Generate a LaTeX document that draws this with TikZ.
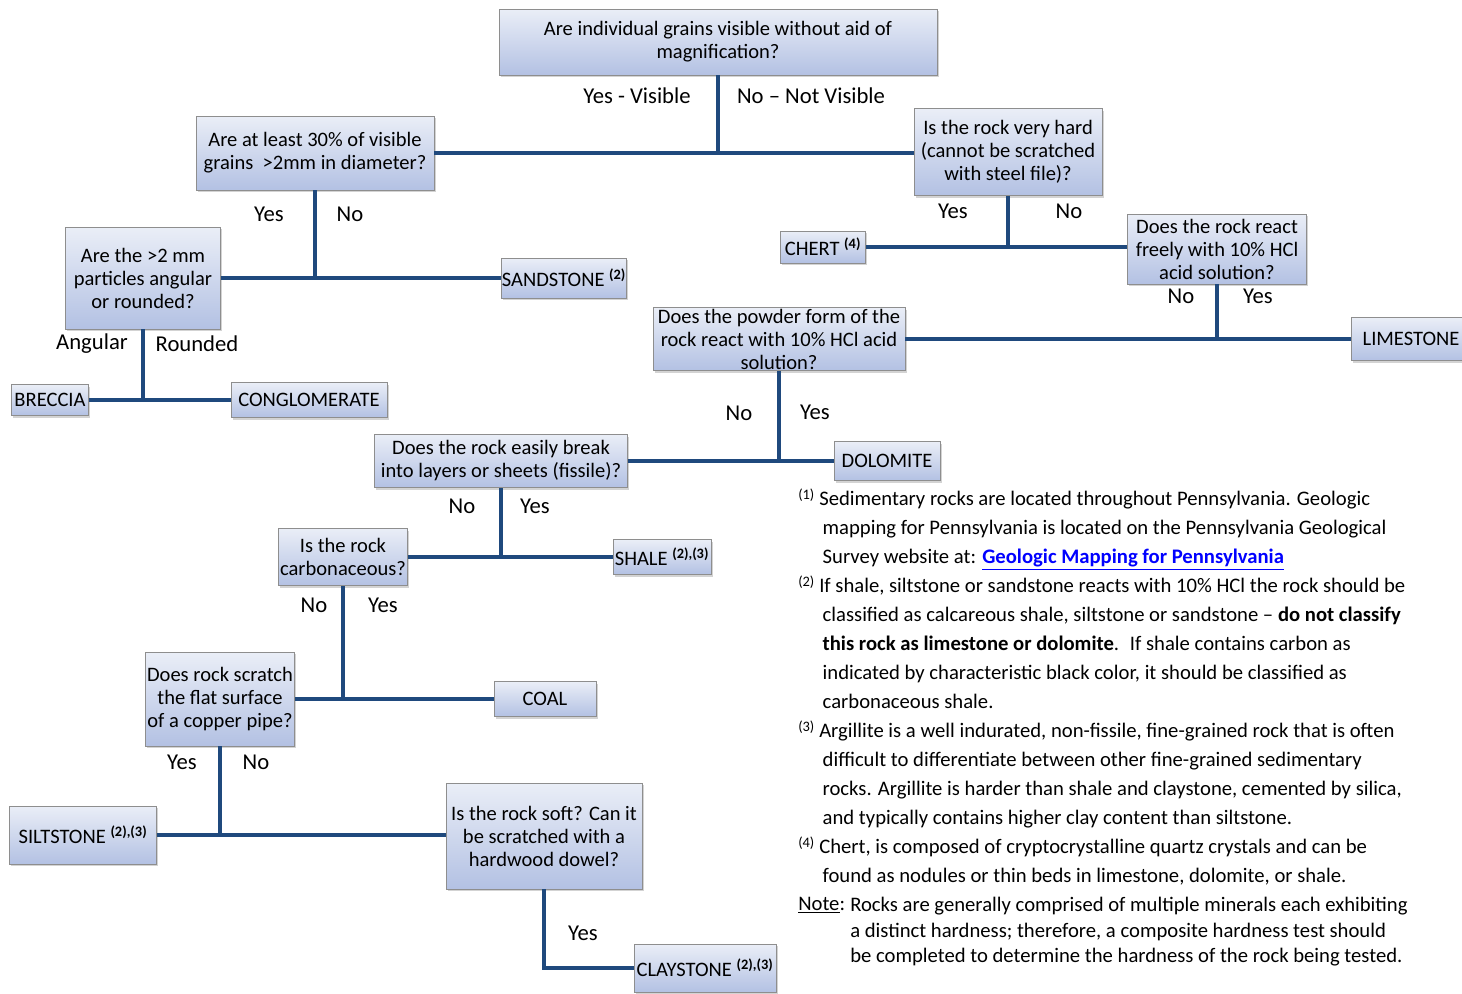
\documentclass[tikz,border=0pt]{standalone}
\usepackage{fontspec}
\setmainfont{Carlito}
\usetikzlibrary{shadows}
\definecolor{cline}{HTML}{1F497D}
\definecolor{ctop}{HTML}{EAEEF7}
\definecolor{cbot}{HTML}{B3C1E3}
\definecolor{cedge}{HTML}{8E8E8E}
\definecolor{clink}{HTML}{0000FF}
\tikzset{
  every picture/.style={x={(0.75pt,0pt)}, y={(0pt,-0.75pt)}},
  box/.style={draw=cedge, line width=0.6pt, top color=ctop, bottom color=cbot, align=center, inner sep=0.5pt,
              drop shadow={opacity=0.35, shadow xshift=1.2pt, shadow yshift=-1.8pt},
              font=\fontsize{15.4}{17.25}\selectfont},
  link/.style={draw=cline, line width=2.3pt},
  ans/.style={font=\fontsize{17}{19}\selectfont, inner sep=0pt},
  notes/.style={font=\fontsize{15.5}{21.75}\selectfont, align=left, anchor=north west, inner sep=0pt},
  fnmark/.style={font=\fontsize{15.5}{18}\selectfont, anchor=north west, inner sep=0pt},
}
\newcommand{\fn}[1]{\textsuperscript{\bfseries#1}}

\begin{document}
\begin{tikzpicture}
  \useasboundingbox (0,0) rectangle (1462,993);
  % questions
  \node[box, minimum width=328.5pt, minimum height=49.5pt] (grains) at (718,42) {Are individual grains visible without aid of\\magnification?};
  \node[box, minimum width=178.5pt, minimum height=55.5pt] (coarse) at (315,153) {Are at least 30\% of visible\\grains \ >2mm in diameter?};
  \node[box, minimum width=141pt, minimum height=65pt] (hard) at (1008,152) {Is the rock very hard\\(cannot be scratched\\with steel file)?};
  \node[box, minimum width=116pt, minimum height=76.5pt] (shape) at (143,278) {Are the >2 mm\\particles angular\\or rounded?};
  \node[box, minimum width=134pt, minimum height=52.5pt] (acid) at (1217,249) {Does the rock react\\freely with 10\% HCl\\acid solution?};
  \node[box, minimum width=189pt, minimum height=47pt] (powder) at (779,339) {Does the powder form of the\\rock react with 10\% HCl acid\\solution?};
  \node[box, minimum width=190pt, minimum height=40pt] (fissile) at (501,461) {Does the rock easily break\\into layers or sheets (fissile)?};
  \node[box, minimum width=97pt, minimum height=43pt] (carbon) at (343,557) {Is the rock\\carbonaceous?};
  \node[box, minimum width=112pt, minimum height=70.5pt] (copper) at (220,699) {Does rock scratch\\the flat surface\\of a copper pipe?};
  \node[box, minimum width=147pt, minimum height=79.5pt] (soft) at (544,836) {Is the rock soft? Can it\\be scratched with a\\hardwood dowel?};
  % rocks
  \node[box, minimum width=91pt, minimum height=30pt] (sandstone) at (564,278) {SANDSTONE \fn{(2)}};
  \node[box, minimum width=64pt, minimum height=24pt] (chert) at (823,247) {CHERT \fn{(4)}};
  \node[box, minimum width=90pt, minimum height=32pt] (limestone) at (1411,339) {LIMESTONE};
  \node[box, minimum width=58pt, minimum height=23pt] (breccia) at (50,400) {BRECCIA};
  \node[box, minimum width=117pt, minimum height=26pt] (conglomerate) at (309,400) {CONGLOMERATE};
  \node[box, minimum width=79.5pt, minimum height=29pt] (dolomite) at (887,461) {DOLOMITE};
  \node[box, minimum width=73.5pt, minimum height=26pt] (shale) at (662,557) {SHALE \fn{(2),(3)}};
  \node[box, minimum width=76.5pt, minimum height=26pt] (coal) at (545,699) {COAL};
  \node[box, minimum width=110pt, minimum height=43.5pt] (siltstone) at (83,835) {SILTSTONE \fn{(2),(3)}};
  \node[box, minimum width=106.5pt, minimum height=36pt] (claystone) at (705,968) {CLAYSTONE \fn{(2),(3)}};
  % connectors
  \draw[link] (grains.south) -- (grains.south |- coarse.east);
  \draw[link] (coarse.east) -- (hard.west |- coarse.east);
  \draw[link] (coarse.south) -- (coarse.south |- sandstone.west);
  \draw[link] (shape.east) -- (sandstone.west);
  \draw[link] (shape.south) -- (shape.south |- breccia.east);
  \draw[link] (breccia.east) -- (conglomerate.west);
  \draw[link] (hard.south) -- (hard.south |- chert.east);
  \draw[link] (chert.east) -- (acid.west |- chert.east);
  \draw[link] (acid.south) -- (acid.south |- limestone.west);
  \draw[link] (powder.east) -- (limestone.west);
  \draw[link] (powder.south) -- (powder.south |- dolomite.west);
  \draw[link] (fissile.east) -- (dolomite.west);
  \draw[link] (fissile.south) -- (fissile.south |- shale.west);
  \draw[link] (carbon.east) -- (shale.west);
  \draw[link] (carbon.south) -- (carbon.south |- coal.west);
  \draw[link] (copper.east) -- (coal.west);
  \draw[link] (copper.south) -- (copper.south |- siltstone.east);
  \draw[link] (siltstone.east) -- (soft.west |- siltstone.east);
  \draw[link] (soft.south) |- (claystone.west);
  % answers
  \node[ans] (a1) at (637,96) {Yes - Visible};
  \node[ans] (a2) at (811,96) {No – Not Visible};
  \node[ans] (a3) at (269,214) {Yes};
  \node[ans] (a4) at (350,214) {No};
  \node[ans] (a5) at (953,211) {Yes};
  \node[ans] (a6) at (1069,211) {No};
  \node[ans] (a7) at (92,344) {Angular};
  \node[ans] (a8) at (197,344) {Rounded};
  \node[ans] (a9) at (1181,296) {No};
  \node[ans] (a10) at (1258,296) {Yes};
  \node[ans] (a11) at (739,413) {No};
  \node[ans] (a12) at (815,412) {Yes};
  \node[ans] (a13) at (462,506) {No};
  \node[ans] (a14) at (535,506) {Yes};
  \node[ans] (a15) at (314,605) {No};
  \node[ans] (a16) at (383,605) {Yes};
  \node[ans] (a17) at (182,762) {Yes};
  \node[ans] (a18) at (256,762) {No};
  \node[ans] (a19) at (583,933) {Yes};
  % footnotes
  \node[notes] (fn) at (819,491) {Sedimentary rocks are located throughout Pennsylvania. Geologic\\
    \,mapping for Pennsylvania is located on the Pennsylvania Geological\\
    \,Survey website at: {\bfseries\color{clink}\underline{Geologic Mapping for Pennsylvania}}\\
    If shale, siltstone or sandstone reacts with 10\% HCl the rock should be\\
    \,classified as calcareous shale, siltstone or sandstone – \textbf{do not classify}\\
    \,\textbf{this rock as limestone or dolomite}. \ If shale contains carbon as\\
    \,indicated by characteristic black color, it should be classified as\\
    \,carbonaceous shale.\\
    Argillite is a well indurated, non-fissile, fine-grained rock that is often\\
    \,difficult to differentiate between other fine-grained sedimentary\\
    \,rocks. Argillite is harder than shale and claystone, cemented by silica,\\
    \,and typically contains higher clay content than siltstone.\\
    Chert, is composed of cryptocrystalline quartz crystals and can be\\
    \,found as nodules or thin beds in limestone, dolomite, or shale.};
  \node[fnmark] (m1) at (798,489) {\textsuperscript{(1)}};
  \node[fnmark] (m2) at (798,576) {\textsuperscript{(2)}};
  \node[fnmark] (m3) at (798,721) {\textsuperscript{(3)}};
  \node[fnmark] (m4) at (798,837) {\textsuperscript{(4)}};
  \node[fnmark] (nt) at (798,897) {\underline{Note}:};
  \node[notes, font=\fontsize{15.5}{19.1}\selectfont] (ntx) at (850,897) {Rocks are generally comprised of multiple minerals each exhibiting\\
    a distinct hardness; therefore, a composite hardness test should\\
    be completed to determine the hardness of the rock being tested.};
\end{tikzpicture}
\end{document}
